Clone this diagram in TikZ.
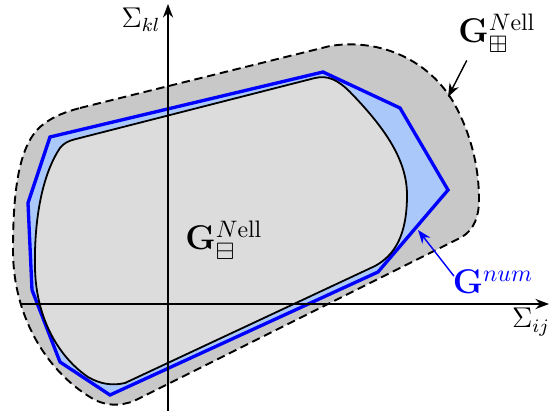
\documentclass[tikz,border=0pt]{standalone}
\usepackage{amsmath,amssymb}
\usepackage{tikz}
\usetikzlibrary{arrows.meta,positioning,calc}

\definecolor{outergray}{RGB}{200,200,200}
\definecolor{innergray}{RGB}{220,220,220}
\definecolor{numfill}{RGB}{170,200,250}

\begin{document}
\begin{tikzpicture}[>=Stealth, x=0.42pt, y=-0.42pt,
  outerset/.style={fill=outergray, draw=black, line width=0.8pt, dash pattern=on 3.5pt off 2pt},
  numset/.style={fill=numfill, draw=blue, line width=1.4pt, line join=miter},
  innerset/.style={fill=innergray, draw=black, line width=0.75pt},
  axis/.style={->, line width=0.6pt}]

  \useasboundingbox (0,0) rectangle (551,411);

  % Define regions
  \draw[outerset] (80,108) -- (330,46)
    .. controls (380,38) and (430,60) .. (455,105)
    .. controls (470,133) and (479,165) .. (479,200)
    .. controls (479,215) and (475,230) .. (460,238)
    -- (140,398)
    .. controls (125,406) and (110,407) .. (95,400)
    .. controls (50,375) and (13,320) .. (13,250)
    .. controls (13,185) and (20,140) .. (45,123)
    .. controls (55,116) and (65,112) .. (80,108) -- cycle;
  \draw[numset] (50,137) -- (323,72) -- (400,108) -- (448,190) -- (378,272)
    -- (110,395) -- (60,362) -- (32,290) -- (28,203) -- cycle;
  \draw[innerset] (76,139) -- (315,78)
    .. controls (328,75) and (338,80) .. (350,92)
    .. controls (385,128) and (407,160) .. (407,195)
    .. controls (407,235) and (395,255) .. (375,266)
    -- (125,383)
    .. controls (112,386) and (100,384) .. (88,377)
    .. controls (60,358) and (36,320) .. (35,268)
    .. controls (34,220) and (42,175) .. (60,148)
    .. controls (64,143) and (68,141) .. (76,139) -- cycle;

  % Axes
  \coordinate (xl) at (20,304);
  \coordinate (xr) at (549,304);
  \coordinate (yb) at (168,411);
  \coordinate (yt) at (168,4);
  \draw[axis] (xl) -- (xr);
  \draw[axis] (yb) -- (yt);

  % Define nodes
  \node (sigkl) at (141,20) {\large $\Sigma_{kl}$};
  \node (sigij) at (531,322) {\large $\Sigma_{ij}$};
  \node (gout) at (497,33) {\Large $\mathbf{G}^{N\mathrm{ell}}_{\boxplus}$};
  \node (gin) at (224,240) {\Large $\mathbf{G}^{N\mathrm{ell}}_{\boxminus}$};
  \node[text=blue] (gnum) at (493,282) {\Large $\mathbf{G}^{num}$};
  \coordinate (outpt) at (448,97);
  \coordinate (numpt) at (418,230);

  % Draw arrows
  \draw[->, line width=0.6pt] ([xshift=7pt]gout.south west) -- (outpt);
  \draw[->, blue, line width=0.6pt] ([shift={(4pt,-6pt)}]gnum.north west) -- (numpt);
\end{tikzpicture}
\end{document}
